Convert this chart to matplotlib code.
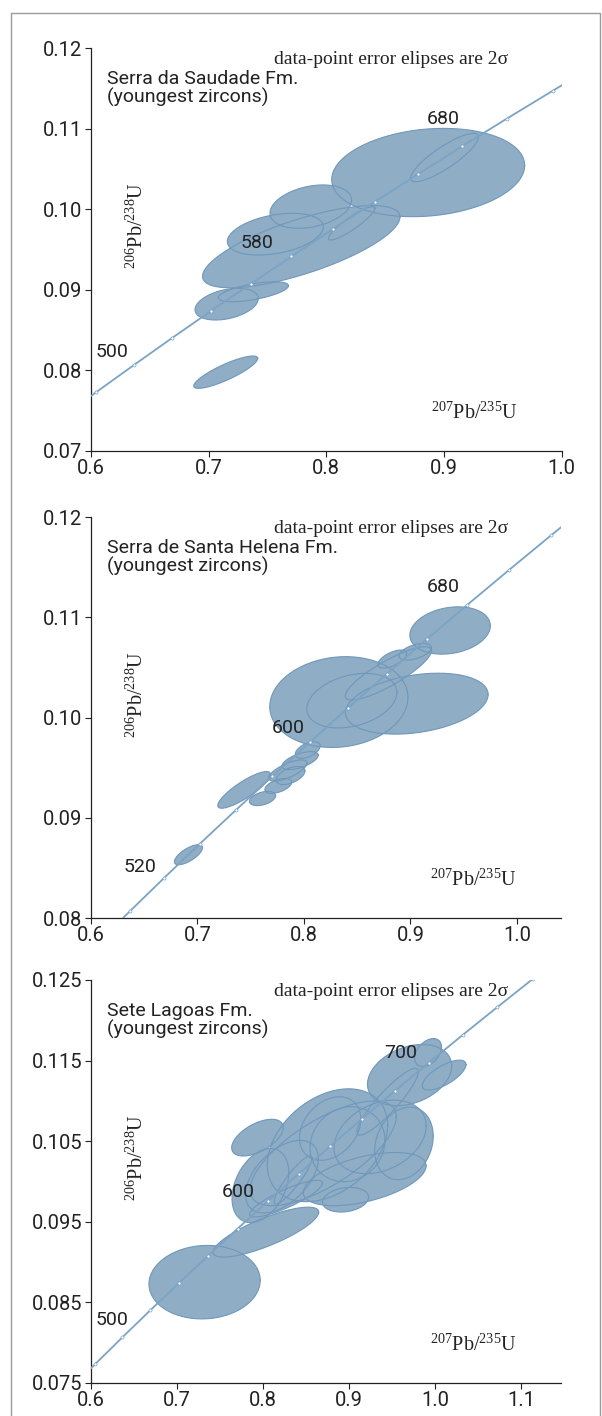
import numpy as np
import matplotlib
matplotlib.use("Agg")
import matplotlib.pyplot as plt
from matplotlib.patches import Rectangle

plt.rcParams['font.family'] = ['Roboto', 'DejaVu Sans']
plt.rcParams['mathtext.fontset'] = 'custom'
plt.rcParams['mathtext.rm'] = 'Liberation Serif'

# concordia reference points (age Ma, 207Pb/235U, 206Pb/238U)
conc_age = [460, 480, 500, 520, 540, 560, 580, 600, 620, 640, 660, 680, 700, 720, 740, 760]
conc_x = [0.5731, 0.6044, 0.6363, 0.6688, 0.7020, 0.7359, 0.7704, 0.8056,
          0.8415, 0.8782, 0.9155, 0.9536, 0.9925, 1.0321, 1.0726, 1.1138]
conc_y = [0.07397, 0.07730, 0.08065, 0.08401, 0.08738, 0.09075, 0.09414, 0.09754,
          0.10095, 0.10438, 0.10781, 0.11125, 0.11470, 0.11817, 0.12164, 0.12513]

# ---- Serra da Saudade Fm.: x, 2s x, y, 2s y, rho
sd_x = [0.7145, 0.7153, 0.7380, 0.7787, 0.7567, 0.7868, 0.8216, 0.8866, 0.9005]
sd_sx = [0.0272, 0.0269, 0.0298, 0.0839, 0.0408, 0.0347, 0.0198, 0.0820, 0.0288]
sd_y = [0.07978, 0.08822, 0.08976, 0.09535, 0.09690, 0.10032, 0.09825, 0.10455, 0.10641]
sd_sy = [0.00201, 0.00197, 0.00124, 0.00510, 0.00259, 0.00269, 0.00207, 0.00548, 0.00300]
sd_rho = [0.85, 0.35, 0.60, 0.72, 0.35, 0.30, 0.90, 0.16, 0.85]

# ---- Serra de Santa Helena Fm.
sh_x = [0.6915, 0.7438, 0.7611, 0.7759, 0.7849, 0.7874, 0.7964, 0.8036,
        0.8328, 0.9060, 0.8450, 0.8793, 0.8829, 0.9045, 0.9373]
sh_sx = [0.0132, 0.0247, 0.0123, 0.0126, 0.0180, 0.0135, 0.0170, 0.0117,
         0.0649, 0.0670, 0.0423, 0.0405, 0.0135, 0.0153, 0.0378]
sh_y = [0.08631, 0.09278, 0.09192, 0.09318, 0.09471, 0.09421, 0.09570, 0.09676,
        0.10154, 0.10138, 0.10168, 0.10440, 0.10583, 0.10656, 0.10868]
sh_sy = [0.00100, 0.00183, 0.00071, 0.00075, 0.00106, 0.00090, 0.00090, 0.00083,
         0.00453, 0.00304, 0.00272, 0.00266, 0.00090, 0.00083, 0.00236]
sh_rho = [0.70, 0.85, 0.40, 0.50, 0.70, 0.50, 0.60, 0.50,
          0.10, 0.30, 0.30, 0.85, 0.60, 0.50, 0.20]

# ---- Sete Lagoas Fm.
sl_x = [0.7321, 0.8034, 0.7936, 0.7970, 0.8220, 0.8700, 0.8983, 0.8781, 0.9362,
        0.9640, 0.9183, 0.8960, 0.9705, 1.0107, 0.9920, 0.9450, 0.8268, 0.8750,
        0.8350]
sl_sx = [0.0647, 0.0614, 0.0300, 0.0330, 0.0424, 0.0850, 0.0436, 0.0357, 0.0536,
         0.0340, 0.0714, 0.0268, 0.0490, 0.0254, 0.0156, 0.0357, 0.0424, 0.0700,
         0.0220]
sl_y = [0.08751, 0.09372, 0.10544, 0.09950, 0.10060, 0.10350, 0.10463, 0.10657, 0.10553,
        0.10473, 0.10030, 0.09774, 0.11320, 0.11320, 0.11600, 0.10990, 0.09787, 0.10450,
        0.10020]
sl_sy = [0.00456, 0.00310, 0.00228, 0.00460, 0.00450, 0.00650, 0.00465, 0.00394, 0.00456,
         0.00450, 0.00330, 0.00153, 0.00380, 0.00186, 0.00174, 0.00414, 0.00228, 0.00700,
         0.00300]
sl_rho = [0.05, 0.80, 0.55, 0.35, 0.50, 0.70, 0.10, 0.30, 0.30,
          0.20, 0.50, 0.20, 0.30, 0.70, 0.40, 0.90, 0.85, 0.35,
          0.90]

fill_c = '#8fadc5'
edge_c = '#6f98bb'
line_c = '#7aa3c4'
txt_c = '#222222'


def ellipse(cx, sx, cy, sy, rho, n=140):
    t = np.linspace(0, 2 * np.pi, n)
    ex = cx + sx * np.cos(t)
    ey = cy + sy * (rho * np.cos(t) + np.sqrt(1 - rho ** 2) * np.sin(t))
    return ex, ey


def draw_panel(ax, xs, sxs, ys, sys_, rhos, xlim, ylim, xticks, yticks, yfmt,
               title, ages, age_pos):
    for cx, sx, cy, sy, r in zip(xs, sxs, ys, sys_, rhos):
        ex, ey = ellipse(cx, sx, cy, sy, r)
        ax.fill(ex, ey, color=fill_c, lw=0, zorder=2)
    for cx, sx, cy, sy, r in zip(xs, sxs, ys, sys_, rhos):
        ex, ey = ellipse(cx, sx, cy, sy, r)
        ax.plot(ex, ey, color=edge_c, lw=0.8, zorder=3)
    ax.plot(conc_x, conc_y, color=line_c, lw=1.3, zorder=4)
    ax.plot(conc_x, conc_y, ls='none', marker='o', ms=2.2, mfc='white',
            mec=line_c, mew=0.5, zorder=5)
    for a, (px, py) in zip(ages, age_pos):
        ax.text(px, py, str(a), fontsize=14, ha='center', va='center',
                color=txt_c, zorder=6)

    ax.set_xlim(xlim)
    ax.set_ylim(ylim)
    ax.set_xticks(xticks)
    ax.set_yticks(yticks)
    ax.set_xticklabels(['%.1f' % v for v in xticks])
    ax.set_yticklabels([yfmt % v for v in yticks])
    ax.tick_params(direction='out', length=4.3, width=0.8, labelsize=14.5,
                   colors=txt_c, pad=1.8)
    for s in ['top', 'right']:
        ax.spines[s].set_visible(False)
    for s in ['left', 'bottom']:
        ax.spines[s].set_linewidth(0.9)
        ax.spines[s].set_color(txt_c)

    ax.text(0.034, 0.945, title + '\n(youngest zircons)', transform=ax.transAxes,
            fontsize=14, ha='left', va='top', linespacing=1.0, color=txt_c)
    ax.text(0.389, 0.972, 'data-point error elipses are 2σ', transform=ax.transAxes,
            fontsize=14, ha='left', va='center', family='Liberation Serif',
            color=txt_c)
    ax.text(0.098, 0.558, r'$^{206}$Pb/$^{238}$U', transform=ax.transAxes,
            fontsize=14.5, rotation=90, ha='center', va='center',
            family='Liberation Serif', color=txt_c)
    ax.text(0.815, 0.094, r'$^{207}$Pb/$^{235}$U', transform=ax.transAxes,
            fontsize=14.5, ha='center', va='center', family='Liberation Serif',
            color=txt_c)


W, H = 602, 1416
fig = plt.figure(figsize=(W / 100, H / 100), dpi=100)
fig.patches.append(Rectangle((10.5 / W, -0.01), 589 / W, 1.01 - 13 / H,
                             transform=fig.transFigure, fill=False,
                             edgecolor='#9a9a9a', lw=1.0))

ax1 = fig.add_axes([91 / W, 1 - 451 / H, 470.6 / W, 403 / H])
draw_panel(ax1, sd_x, sd_sx, sd_y, sd_sy, sd_rho, (0.6, 1.0), (0.07, 0.12),
           [0.6, 0.7, 0.8, 0.9, 1.0], [0.07, 0.08, 0.09, 0.10, 0.11, 0.12], '%.2f',
           'Serra da Saudade Fm.', [500, 580, 680],
           [(0.6176, 0.08228), (0.7408, 0.0958), (0.8993, 0.1112)])

ax2 = fig.add_axes([91 / W, 1 - 918 / H, 469.5 / W, 401 / H])
draw_panel(ax2, sh_x, sh_sx, sh_y, sh_sy, sh_rho, (0.6, 1.041), (0.08, 0.12),
           [0.6, 0.7, 0.8, 0.9, 1.0], [0.08, 0.09, 0.10, 0.11, 0.12], '%.2f',
           'Serra de Santa Helena Fm.', [520, 600, 680],
           [(0.6465, 0.0851), (0.7849, 0.09895), (0.9308, 0.1130)])

ax3 = fig.add_axes([91 / W, 1 - 1383 / H, 469.5 / W, 403 / H])
draw_panel(ax3, sl_x, sl_sx, sl_y, sl_sy, sl_rho, (0.6, 1.146), (0.075, 0.125),
           [0.6, 0.7, 0.8, 0.9, 1.0, 1.1], [0.075, 0.085, 0.095, 0.105, 0.115, 0.125],
           '%.3f', 'Sete Lagoas Fm.', [500, 600, 700],
           [(0.6241, 0.0828), (0.7716, 0.0987), (0.9606, 0.1159)])

fig.savefig('out.png', dpi=100)
